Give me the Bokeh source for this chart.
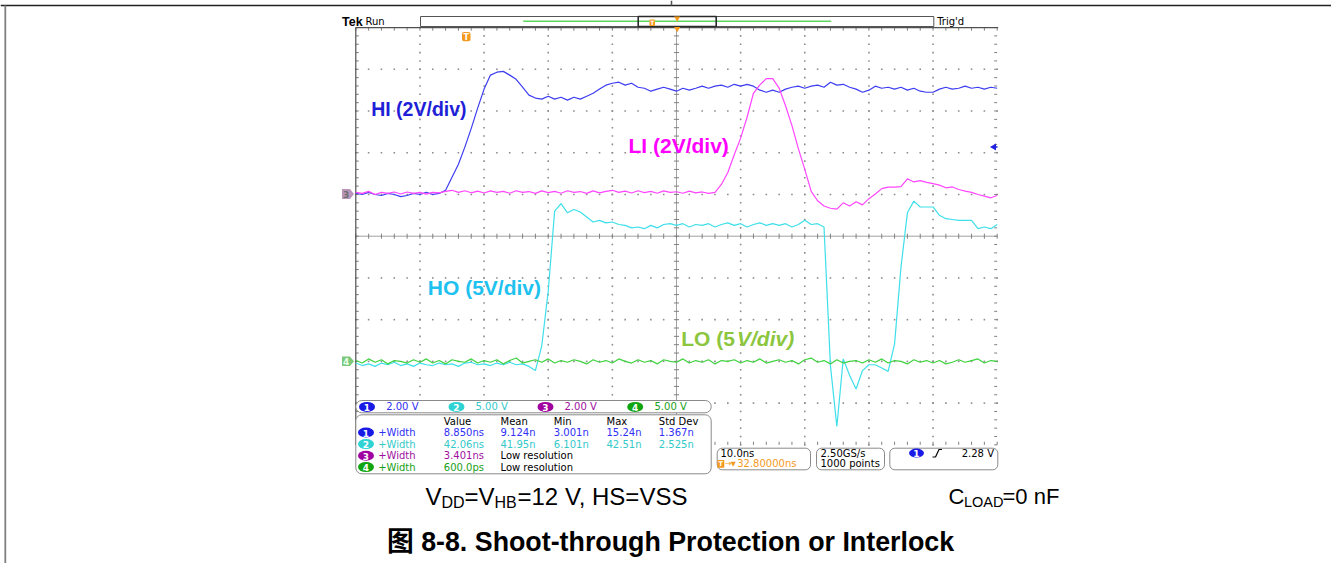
import numpy as np
from bokeh.plotting import figure
from bokeh.models import Range1d
from bokeh.core.properties import value
from bokeh.embed import file_html
from bokeh.resources import INLINE

# ------------------------------------------------------------------ data
sample_start_ns = -17.2      # first sample, relative to the trigger point
sample_step_ns = 1.0

# CH1  HI  (2 V/div)
hi_volts = [0.06, 0.0, 0.1, 0.0, -0.05, 0.05, 0.0, -0.1, -0.05, 0.05, 0.0, 0.1, 0.0, 0.05, 0.2,
            0.83, 1.45, 2.27, 3.17, 4.14, 5.05, 5.72, 5.86, 5.9, 5.72, 5.52, 5.14, 4.76, 4.62, 4.57,
            4.71, 4.57, 4.66, 4.52, 4.66, 4.57, 4.71, 4.85, 5.05, 5.24, 5.33, 5.38, 5.24, 5.33, 5.14,
            5.09, 4.95, 5.05, 5.14, 5.05, 4.95, 5.09, 5.0, 5.09, 5.19, 5.09, 5.19, 5.24, 5.14, 5.28,
            5.19, 5.28, 5.19, 5.0, 4.9, 5.0, 4.9, 5.05, 5.14, 5.19, 5.09, 5.19, 5.24, 5.14, 5.38,
            5.24, 5.28, 5.14, 5.05, 4.9, 5.0, 5.19, 5.09, 5.14, 5.05, 5.14, 5.0, 5.09, 4.95, 4.9,
            4.9, 5.05, 5.14, 5.05, 5.09, 5.19, 5.09, 5.14, 5.05, 5.14, 5.09]
# CH3  LI  (2 V/div)
li_volts = [0.1, 0.05, 0.15, 0.0, 0.1, 0.05, 0.12, 0.02, 0.12, 0.05, 0.1, 0.02, 0.1, 0.08, 0.15,
            0.2, 0.1, 0.18, 0.08, 0.16, 0.07, 0.17, 0.1, 0.15, 0.06, 0.18, 0.1, 0.14, 0.05, 0.17,
            0.09, 0.15, 0.06, 0.18, 0.1, 0.14, 0.05, 0.17, 0.08, 0.15, 0.2, 0.1, 0.16, 0.07, 0.18,
            0.09, 0.15, 0.06, 0.17, 0.1, 0.13, 0.06, 0.16, 0.08, 0.12, 0.05, 0.1,
            0.48, 1.05, 1.9, 2.7, 3.7, 4.85, 5.25, 5.55, 5.55, 5.1,
            4.25, 3.3, 2.2, 1.2, 0.15, -0.3, -0.55, -0.66, -0.7, -0.4,
            -0.55, -0.35, -0.5, -0.2, 0.02, 0.28, 0.35, 0.35, 0.38, 0.75,
            0.6, 0.66, 0.58, 0.52, 0.45, 0.32, 0.36, 0.24, 0.16, 0.1,
            0.0, -0.08, -0.16, -0.05]
# CH2  HO  (5 V/div)
ho_volts = [-0.2, -0.5, -0.3, -0.6, -0.2, -0.4, -0.1, -0.5, -0.3, -0.6, -0.2, -0.4, -0.5, -0.2,
            -0.4, -0.3, -0.6, -0.2, -0.1, -0.4, -0.3, -0.5, -0.2, -0.4, -0.1, -0.4, -0.3, -0.6,
            -1.1, 1.9, 8.4, 18.0, 18.9, 17.8, 18.2, 17.9, 17.3, 16.7,
            16.9, 16.6, 16.7, 16.4, 16.3, 16.0, 16.1, 15.9, 16.3, 16.0, 16.4, 16.5,
            16.3, 16.5, 16.1, 16.4, 16.3, 16.5, 16.1, 16.4, 16.6, 16.3, 16.5, 16.1,
            16.4, 16.6, 16.3, 16.5, 16.3, 16.5, 16.1, 16.4, 16.9, 16.4, 16.5, 16.1,
            -0.5, -7.8, 0.3, -1.7, -3.3, -1.1, -0.4, -0.4, -0.8, -1.2, 2.1, 11.3, 17.8,
            19.2, 18.5, 18.5, 18.5, 17.5, 17.1, 17.0, 16.9, 16.9, 16.9, 15.9, 16.1, 15.9, 16.4]
# CH4  LO  (5 V/div)
lo_volts = [0.1, -0.2, 0.3, -0.1, 0.2, -0.3, 0.1, 0.0, -0.2, 0.2,
            -0.1, 0.3, -0.2, 0.1, -0.3, 0.2, 0.0, -0.1, 0.3, -0.2,
            0.1, -0.1, 0.2, -0.3, 0.1, 0.4, -0.2, 0.0, 0.2, -0.1,
            0.3, -0.2, 0.1, -0.1, 0.2, 0.0, -0.3, 0.2, -0.1, 0.1,
            -0.2, 0.3, 0.0, -0.2, 0.2, -0.1, 0.1, -0.3, 0.2, 0.0,
            -0.1, 0.3, -0.2, 0.1, -0.1, 0.2, -0.3, 0.1, 0.0, 0.2,
            -0.2, 0.1, -0.1, 0.3, -0.2, 0.0, 0.2, -0.1, 0.1, -0.3,
            0.2, 0.4, -0.1, 0.1, -0.3, 0.2, -0.2, 0.0, 0.1, -0.2,
            0.2, -0.1, 0.3, -0.2, 0.1, 0.0, -0.3, 0.2, -0.1, 0.1,
            -0.2, 0.1, -0.3, -0.1, 0.2, -0.1, 0.1, 0.3, -0.2, 0.1, 0.0]

volts_per_div = [2.0, 5.0, 2.0, 5.0]                      # CH1..CH4
channel_readouts = ["2.00 V", "5.00 V", "2.00 V", "5.00 V"]
meas_header = ["Value", "Mean", "Min", "Max", "Std Dev"]
meas_rows = [["8.850ns", "9.124n", "3.001n", "15.24n", "1.367n"],
             ["42.06ns", "41.95n", "6.101n", "42.51n", "2.525n"],
             ["3.401ns", "Low resolution"],
             ["600.0ps", "Low resolution"]]
time_per_div = "10.0ns"
trigger_offset = "32.80000ns"
sample_rate = "2.50GS/s"
record_length = "1000 points"
trigger_level = "2.28 V"

# ------------------------------------------------------------------ geometry (page px -> data)
W, H = 1331, 563
GL, GR, GC_Y, DIV_PX = 355.3, 996.7, 235.7, 41.73
NS_PX = (GR - GL) / 100.0
GRAT_T0 = -17.2                       # time at left graticule edge
GRAT_T1 = GRAT_T0 + 100.0
GRAT_TC = GRAT_T0 + 50.0


def dx(xp):
    return GRAT_T0 + (xp - GL) / NS_PX


def dy(yp):
    return (GC_Y - yp) / DIV_PX


p = figure(width=W, height=H, output_backend="svg", toolbar_location=None,
           x_range=Range1d(dx(0), dx(W)), y_range=Range1d(dy(H), dy(0)),
           x_axis_type=None, y_axis_type=None, min_border=0)
p.outline_line_color = None
p.background_fill_color = "white"
p.border_fill_color = "white"
p.xgrid.visible = False
p.ygrid.visible = False


def txt(xp, yp, s, color="#000000", size=10, font="DejaVu Sans", style="normal",
        align="left", baseline="middle"):
    p.text(x=[dx(xp)], y=[dy(yp)], text=[s], text_color=color,
           text_font=value(font), text_font_size=value(f"{size}px"),
           text_font_style=style, text_align=align, text_baseline=baseline)


def box(x1, y1, x2, y2, radius=0, line="#8a8a8a", fill="white", lw=1):
    kw = dict(left=[dx(x1)], right=[dx(x2)], top=[dy(y1)], bottom=[dy(y2)],
              fill_color=fill, line_color=line, line_width=lw)
    try:
        p.quad(border_radius=radius, **kw)
    except Exception:
        p.quad(**kw)


def pill(xp, yp, color, label, w=16, h=10):
    p.ellipse(x=[dx(xp)], y=[dy(yp)], width=w, height=h, width_units="screen",
              height_units="screen", fill_color=color, line_color=None)
    txt(xp, yp + 0.5, label, color="white", size=9, style="bold", align="center")


# ------------------------------------------------------------------ page border
p.segment(x0=[dx(0)], y0=[dy(5.0)], x1=[dx(W)], y1=[dy(5.0)], line_color="#222222", line_width=1.5)
p.segment(x0=[dx(4.8)], y0=[dy(5.0)], x1=[dx(4.8)], y1=[dy(H)], line_color="#808080", line_width=1.8)
p.segment(x0=[dx(671.0)], y0=[dy(0)], x1=[dx(671.0)], y1=[dy(5.0)], line_color="#555555", line_width=1.5)

# ------------------------------------------------------------------ graticule
minor_t = GRAT_T0 + 2.0 * np.arange(51)
minor_v = 0.2 * np.arange(-25, 26)
dots_x, dots_y = [], []
for i in range(1, 10):
    if i == 5:
        continue
    dots_x += [GRAT_T0 + 10 * i] * len(minor_v)
    dots_y += list(minor_v)
for j in range(-4, 5):
    if j == 0:
        continue
    dots_x += list(minor_t)
    dots_y += [j] * len(minor_t)
p.scatter(dots_x, dots_y, marker="square", size=1.6, fill_color="#8c8c8c", line_color=None)

tick_col = "#808080"
p.segment(x0=[GRAT_T0], y0=[0], x1=[GRAT_T1], y1=[0], line_color="#a0a0a0", line_width=1)
p.segment(x0=[GRAT_TC], y0=[-5], x1=[GRAT_TC], y1=[5], line_color="#a0a0a0", line_width=1)
p.segment(x0=minor_t, y0=-0.06, x1=minor_t, y1=0.06, line_color=tick_col, line_width=1)
p.segment(x0=GRAT_TC - 0.4, y0=minor_v, x1=GRAT_TC + 0.4, y1=minor_v, line_color=tick_col, line_width=1)
p.segment(x0=minor_t, y0=5, x1=minor_t, y1=5 - 0.075, line_color=tick_col, line_width=1)
p.segment(x0=minor_t, y0=-5, x1=minor_t, y1=-5 + 0.075, line_color=tick_col, line_width=1)
p.segment(x0=GRAT_T0, y0=minor_v, x1=GRAT_T0 + 0.47, y1=minor_v, line_color=tick_col, line_width=1)
p.segment(x0=GRAT_T1 - 0.47, y0=minor_v, x1=GRAT_T1, y1=minor_v, line_color=tick_col, line_width=1)
p.segment(x0=[GRAT_T0], y0=[5], x1=[GRAT_T1 + 0.15], y1=[5], line_color="#505050", line_width=1.2)
p.segment(x0=[GRAT_T0], y0=[5], x1=[GRAT_T0], y1=[-5], line_color="#505050", line_width=1.2)

# ------------------------------------------------------------------ traces
t = sample_start_ns + sample_step_ns * np.arange(len(hi_volts))
ground_div = {1: 1.0, 2: -3.0, 3: 1.0, 4: -3.0}


def trace(volts, ch, color):
    y = ground_div[ch] + np.asarray(volts) / volts_per_div[ch - 1]
    p.line(t, y, line_color=color, line_width=1.2)


trace(ho_volts, 2, "#3edfea")
trace(hi_volts, 1, "#3d3df2")
trace(li_volts, 3, "#ff45ff")
trace(lo_volts, 4, "#3fd23f")

# ------------------------------------------------------------------ trace labels
LBL = "Liberation Sans"
txt(370.7, 108.7, "HI (2V/div)", color="#1f1fd8", size=19.5, font=LBL, style="bold")
txt(628.0, 145.0, "LI (2V/div)", color="#ff00ff", size=21, font=LBL, style="bold")
txt(427.3, 286.5, "HO (5V/div)", color="#1fc2ef", size=21, font=LBL, style="bold")
txt(680.7, 337.8, "LO (5", color="#8cc63f", size=21, font=LBL, style="bold")
txt(736.5, 337.8, "V/div)", color="#8cc63f", size=21, font=LBL, style="bold italic")

# ------------------------------------------------------------------ markers on graticule
ORANGE = "#f39a1e"
# trigger position T
box(461.5, 31.5, 470.0, 40.8, radius=2, line=None, fill=ORANGE)
txt(465.8, 36.5, "T", color="white", size=8, style="bold", align="center")
# channel ground markers
p.patch([dx(341.5), dx(349.5), dx(353.5), dx(349.5), dx(341.5)],
        [dy(188.6), dy(188.6), dy(193.5), dy(198.4), dy(198.4)], fill_color="#b996b9", line_color=None)
txt(345.6, 193.8, "3", color="#6e6e6e", size=9, style="bold", align="center")
p.patch([dx(341.5), dx(349.5), dx(353.5), dx(349.5), dx(341.5)],
        [dy(356.0), dy(356.0), dy(360.8), dy(365.6), dy(365.6)], fill_color="#7cc87c", line_color=None)
txt(345.6, 361.0, "4", color="#eaffea", size=9, style="bold", align="center")
# trigger level arrow (CH1, 2.28 V)
p.scatter(x=[dx(993.5)], y=[1.0 + 2.28 / volts_per_div[0]], marker="triangle", size=7,
          angle=np.pi / 2, fill_color="#2222e0", line_color=None)
p.segment(x0=[dx(993.5)], y0=[1.0 + 2.28 / volts_per_div[0]], x1=[dx(997)],
          y1=[1.0 + 2.28 / volts_per_div[0]], line_color="#2222e0", line_width=1.5)

# ------------------------------------------------------------------ top status bar
txt(341.5, 21.3, "Tek", size=12.5, font=LBL, style="bold")
txt(365.0, 21.3, "Run", size=10)
txt(936.7, 21.3, "Trig'd", size=10)
box(420.0, 16.0, 933.3, 26.0, line="#555555", fill=None)
p.segment(x0=[dx(522.7)], y0=[dy(20.8)], x1=[dx(830.7)], y1=[dy(20.8)], line_color="#5fd65f", line_width=1.6)
box(637.7, 16.0, 715.7, 26.0, line="#2a2a2a", fill=None, lw=1.6)
box(649.0, 19.0, 654.5, 25.5, radius=1, line=None, fill=ORANGE)
txt(651.8, 22.4, "T", color="white", size=6, style="bold", align="center")
p.scatter(x=[dx(676.7), dx(676.7)], y=[dy(17.8), dy(28.3)], marker="inverted_triangle", size=6,
          fill_color=ORANGE, line_color=None)

# ------------------------------------------------------------------ channel readout strip
ch_colors_pill = ["#1a1ae6", "#2fd3d3", "#a000a0", "#10a510"]
ch_colors_text = ["#2f2ff5", "#33c9c9", "#a010a0", "#18a018"]
box(355.3, 400.0, 710.7, 412.3, radius=6, line="#8a8a8a")
pill_x = [366.5, 456.0, 545.0, 634.7]
read_x = [385.7, 475.0, 564.0, 654.0]
for k in range(4):
    pill(pill_x[k], 406.4, ch_colors_pill[k], str(k + 1))
    txt(read_x[k], 406.4, channel_readouts[k], color=ch_colors_text[k], size=10)

# ------------------------------------------------------------------ measurement table
box(355.3, 414.3, 710.7, 473.3, radius=6, line="#8a8a8a")
col_x = [443.3, 500.0, 553.3, 606.0, 658.3]
for c, h in enumerate(meas_header):
    txt(col_x[c], 420.7, h, size=10)
row_y = [432.0, 443.6, 455.2, 466.6]
for r, row in enumerate(meas_rows):
    pill(365.5, row_y[r], ch_colors_pill[r], str(r + 1))
    txt(377.7, row_y[r], "+Width", color=ch_colors_text[r], size=10)
    for c, s in enumerate(row):
        color = "#000000" if s == "Low resolution" else ch_colors_text[r]
        txt(col_x[c], row_y[r], s, color=color, size=10)

# ------------------------------------------------------------------ horizontal / acquisition / trigger boxes
box(716.7, 447.7, 810.0, 469.3, radius=5, line="#8a8a8a")
txt(720.0, 452.6, time_per_div, size=10)
box(716.8, 459.5, 723.8, 467.2, radius=1, line=None, fill=ORANGE)
txt(720.3, 463.5, "T", color="white", size=6.5, style="bold", align="center")
txt(724.5, 463.3, "\u2192", color=ORANGE, size=8)
txt(730.3, 463.3, "\u25BC", color=ORANGE, size=6.5)
txt(736.7, 463.3, trigger_offset, color=ORANGE, size=10)

box(816.0, 447.7, 884.0, 469.3, radius=5, line="#8a8a8a")
txt(820.0, 452.6, sample_rate, size=10)
txt(820.0, 463.3, record_length, size=10)

box(889.3, 447.7, 997.3, 469.3, radius=5, line="#8a8a8a")
pill(916.0, 452.6, ch_colors_pill[0], "1", w=15, h=9)
p.line([dx(932.0), dx(935.0), dx(938.5), dx(941.5)], [dy(456.5), dy(456.5), dy(449.0), dy(449.0)],
       line_color="#000000", line_width=1.2)
txt(993.5, 452.6, trigger_level, size=10, align="right")

# ------------------------------------------------------------------ captions
CAP, SUB = 24, 16
CY, SY = 495.5, 501.5
txt(425.0, CY, "V", size=CAP, font=LBL)
txt(441.0, SY, "DD", size=SUB, font=LBL)
txt(464.0, CY, "=V", size=CAP, font=LBL)
txt(494.0, SY, "HB", size=SUB, font=LBL)
txt(517.0, CY, "=12 V, HS=VSS", size=CAP, font=LBL)
CAP2, SUB2 = 22, 14.5
txt(948.0, CY, "C", size=CAP2, font=LBL)
txt(963.5, SY, "LOAD", size=SUB2, font=LBL)
txt(1002.0, CY, "=0 nF", size=CAP2, font=LBL)
txt(670.0, 541.0, "\u56fe 8-8. Shoot-through Protection or Interlock", size=26.8,
    font="Liberation Sans, Noto Sans CJK SC", style="bold", align="center")

open("out.html", "w").write(file_html(p, INLINE))
